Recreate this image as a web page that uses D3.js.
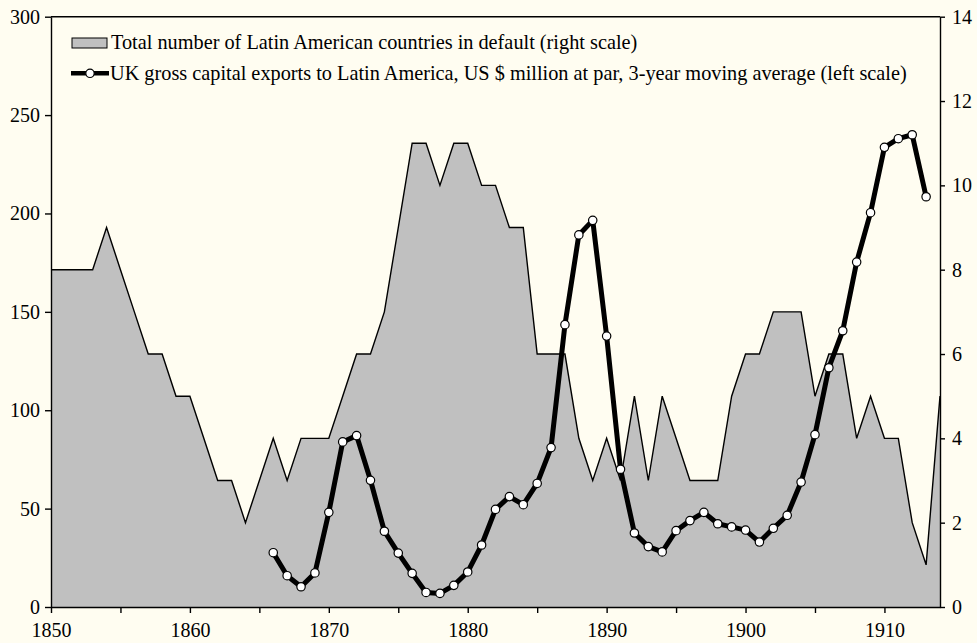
<!DOCTYPE html>
<html><head><meta charset="utf-8">
<script src="https://cdn.jsdelivr.net/npm/d3@7"></script>
<style>body{margin:0;background:#FFFDF1;} svg{display:block;}</style>
</head><body>
<script>
const years = d3.range(1850, 1915);
const defaults = [8,8,8,8,9,8,7,6,6,5,5,4,3,3,2,3,4,3,4,4,4,5,6,6,7,9,11,11,10,11,11,10,10,9,9,6,6,6,4,3,4,3,5,3,5,4,3,3,3,5,6,6,7,7,7,5,6,6,4,5,4,4,2,1,5];
const capYears = d3.range(1866, 1914);
const capital = [27.6,15.9,10.3,17.3,48.1,83.9,87.1,64.4,38.5,27.4,17.1,7.4,6.9,11.0,17.8,31.5,49.6,56.1,52.0,62.8,81.0,143.5,189.1,196.5,137.7,70.0,37.6,30.7,28.0,38.8,43.9,48.1,42.3,40.7,39.1,33.0,40.0,46.6,63.5,87.6,121.6,140.4,175.3,200.4,233.6,238.0,240.0,208.5];
const leftTicks = [0,50,100,150,200,250,300];
const rightTicks = [0,2,4,6,8,10,12,14];
const xTicks = [1850,1860,1870,1880,1890,1900,1910];
const legendLabels = ["Total number of Latin American countries in default (right scale)",
  "UK gross capital exports to Latin America, US $ million at par, 3-year moving average (left scale)"];

const W = 977, H = 643;
const m = {left: 51, right: 940, top: 16.7, bottom: 607};
const font = "'Liberation Serif', 'Times New Roman', serif";
const svg = d3.select("body").append("svg").attr("width", W).attr("height", H);
svg.append("rect").attr("width", W).attr("height", H).attr("fill", "#FFFDF1");

const x = d3.scaleLinear().domain([1850, 1914]).range([m.left, m.right]);
const yL = d3.scaleLinear().domain([0, 300]).range([m.bottom, m.top]);
const yR = d3.scaleLinear().domain([0, 14]).range([m.bottom, m.top]);

const area = d3.area().x((d,i)=>x(years[i])).y0(yR(0)).y1(d=>yR(d));
svg.append("path").datum(defaults).attr("d", area).attr("fill", "#C0C0C0").attr("stroke", "none");
const topLine = d3.line().x((d,i)=>x(years[i])).y(d=>yR(d));
svg.append("path").datum(defaults).attr("d", topLine).attr("fill", "none").attr("stroke", "#000").attr("stroke-width", 1.4);

// frame top
svg.append("line").attr("x1", m.left).attr("x2", m.right).attr("y1", m.top).attr("y2", m.top).attr("stroke", "#000").attr("stroke-width", 1.4);

const line = d3.line().x((d,i)=>x(capYears[i])).y(d=>yL(d));
svg.append("path").datum(capital).attr("d", line).attr("fill", "none").attr("stroke", "#000").attr("stroke-width", 5).attr("stroke-linejoin", "round");
svg.append("g").selectAll("circle").data(capital).join("circle")
  .attr("cx", (d,i)=>x(capYears[i])).attr("cy", d=>yL(d)).attr("r", 4.2)
  .attr("fill", "#fff").attr("stroke", "#000").attr("stroke-width", 1.2);

function styleAxis(g){
  g.selectAll("path,line").attr("stroke", "#000").attr("stroke-width", 1.4);
  g.selectAll("text").attr("font-family", font).attr("font-size", 20).attr("fill", "#000");
}
const gl = svg.append("g").attr("transform", `translate(${m.left},0)`)
  .call(d3.axisLeft(yL).tickValues(leftTicks).tickSize(6).tickSizeOuter(0).tickPadding(5));
styleAxis(gl);
const gr = svg.append("g").attr("transform", `translate(${m.right},0)`)
  .call(d3.axisRight(yR).tickValues(rightTicks).tickSize(5).tickSizeOuter(0).tickPadding(7));
styleAxis(gr);
const gb = svg.append("g").attr("transform", `translate(0,${m.bottom})`)
  .call(d3.axisBottom(x).tickValues(d3.range(1850, 1915, 5)).tickSize(6).tickSizeOuter(0).tickPadding(10)
    .tickFormat(d => xTicks.includes(d) ? d3.format("d")(d) : ""));
styleAxis(gb);

// legend
const lg = svg.append("g");
lg.append("rect").attr("x", 72).attr("y", 38).attr("width", 35).attr("height", 10)
  .attr("fill", "#C0C0C0").attr("stroke", "#000").attr("stroke-width", 1);
lg.append("text").attr("x", 111).attr("y", 48.5).text(legendLabels[0])
  .attr("font-family", font).attr("font-size", 20.3);
lg.append("line").attr("x1", 71).attr("x2", 109).attr("y1", 73.3).attr("y2", 73.3).attr("stroke", "#000").attr("stroke-width", 4.5);
lg.append("circle").attr("cx", 90).attr("cy", 73.3).attr("r", 4.2).attr("fill", "#fff").attr("stroke", "#000").attr("stroke-width", 1.2);
lg.append("text").attr("x", 110).attr("y", 79.5).text(legendLabels[1])
  .attr("font-family", font).attr("font-size", 20.3);
</script>
</body></html>
